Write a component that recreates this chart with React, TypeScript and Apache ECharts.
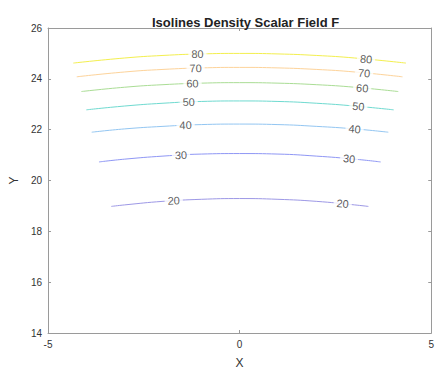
import React, { useEffect, useRef } from "react";
import * as echarts from "echarts";

const levels = [20, 30, 40, 50, 60, 70, 80];
const levelColors = ["#9d98e6", "#8f97f5", "#93c6f2", "#6fdad0", "#aadd95", "#fdd39a", "#f3ef4e"];

const line20 = [[-3.35, 18.98], [-3, 19.04], [-2, 19.18], [-1, 19.26], [0, 19.29], [1, 19.26], [2, 19.18], [3, 19.04], [3.36, 18.98]];
const line30 = [[-3.67, 20.73], [-3, 20.84], [-2, 20.96], [-1, 21.04], [0, 21.06], [1, 21.04], [2, 20.96], [3, 20.84], [3.68, 20.73]];
const line40 = [[-3.86, 21.9], [-3, 22.03], [-2, 22.13], [-1, 22.2], [0, 22.22], [1, 22.2], [2, 22.13], [3, 22.03], [3.88, 21.9]];
const line50 = [[-4.0, 22.78], [-3, 22.93], [-2, 23.04], [-1, 23.11], [0, 23.13], [1, 23.11], [2, 23.04], [3, 22.93], [4.02, 22.78]];
const line60 = [[-4.13, 23.5], [-3, 23.67], [-2, 23.77], [-1, 23.83], [0, 23.85], [1, 23.83], [2, 23.77], [3, 23.67], [4.14, 23.5]];
const line70 = [[-4.25, 24.08], [-3, 24.27], [-2, 24.37], [-1, 24.43], [0, 24.45], [1, 24.43], [2, 24.37], [3, 24.27], [4.25, 24.08]];
const line80 = [[-4.34, 24.62], [-3, 24.82], [-2, 24.92], [-1, 24.98], [0, 25.0], [1, 24.98], [2, 24.92], [3, 24.82], [4.34, 24.62]];
const contourLines = [line20, line30, line40, line50, line60, line70, line80];

const midLabels = [[-1.72, 19.21], [-1.53, 21.0], [-1.41, 22.18], [-1.33, 23.09], [-1.23, 23.82], [-1.15, 24.42], [-1.1, 24.98]];
const rightLabels = [[2.69, 19.09], [2.86, 20.86], [3.0, 22.03], [3.1, 22.92], [3.2, 23.64], [3.25, 24.23], [3.3, 24.78]];

const xTicks = { min: -5, max: 5, interval: 5 };
const yTicks = { min: 14, max: 26, interval: 2 };

export default function App() {
  const ref = useRef<HTMLDivElement>(null);

  useEffect(() => {
    if (!ref.current) return;
    document.body.style.margin = "0";
    const chart = echarts.init(ref.current, undefined, { renderer: "svg" });
    const font = "'Liberation Sans', Arial, Helvetica, sans-serif";
    const axisColor = "#9a9a9a";
    const textColor = "#333333";

    const lineSeries = contourLines.map((pts, i) => ({
      type: "line",
      name: String(levels[i]),
      data: pts,
      smooth: true,
      showSymbol: false,
      symbol: "none",
      lineStyle: { color: levelColors[i], width: 1 },
      z: 2,
      silent: true,
    }));

    const labelData: any[] = [];
    levels.forEach((lv, i) => {
      labelData.push({ value: [midLabels[i][0], midLabels[i][1], lv], label: { rotate: 1.5 } });
      labelData.push({ value: [rightLabels[i][0], rightLabels[i][1], lv], label: { rotate: -5 } });
    });

    const labelSeries = {
      type: "scatter",
      data: labelData,
      symbolSize: 0,
      z: 5,
      silent: true,
      label: {
        show: true,
        position: "inside",
        formatter: (p: any) => String(p.value[2]),
        fontFamily: font,
        fontSize: 11,
        color: textColor,
        backgroundColor: "#ffffff",
        padding: [0, 3],
      },
    };

    const baseX = {
      type: "value",
      min: xTicks.min,
      max: xTicks.max,
      interval: xTicks.interval,
      splitLine: { show: false },
      axisLine: { show: true, onZero: false, lineStyle: { color: axisColor, width: 1 } },
      axisTick: { show: true, inside: true, length: 3, lineStyle: { color: axisColor } },
    };
    const baseY = {
      type: "value",
      min: yTicks.min,
      max: yTicks.max,
      interval: yTicks.interval,
      splitLine: { show: false },
      axisLine: { show: true, onZero: false, lineStyle: { color: axisColor, width: 1 } },
      axisTick: { show: true, inside: true, length: 3, lineStyle: { color: axisColor } },
    };

    chart.setOption({
      animation: false,
      backgroundColor: "#ffffff",
      title: {
        text: "Isolines Density Scalar Field F",
        left: 147,
        top: 11,
        textStyle: { fontFamily: font, fontSize: 13, fontWeight: "bold", color: "#222222" },
      },
      grid: { left: 45, right: 3, top: 28, bottom: 37, containLabel: false },
      xAxis: [
        {
          ...baseX,
          position: "bottom",
          name: "X",
          nameLocation: "middle",
          nameGap: 24,
          nameTextStyle: { fontFamily: font, fontSize: 12, color: textColor },
          axisLabel: { fontFamily: font, fontSize: 10, color: textColor, margin: 6 },
        },
        { ...baseX, position: "top", axisLabel: { show: false } },
      ],
      yAxis: [
        {
          ...baseY,
          position: "left",
          name: "Y",
          nameLocation: "middle",
          nameGap: 26,
          nameTextStyle: { fontFamily: font, fontSize: 12, color: textColor },
          axisLabel: { fontFamily: font, fontSize: 10, color: textColor, margin: 6 },
        },
        { ...baseY, position: "right", axisLabel: { show: false } },
      ],
      series: [...lineSeries, labelSeries],
    } as any);

    return () => chart.dispose();
  }, []);

  return (
    <div
      ref={ref}
      style={{ position: "fixed", left: 0, top: 0, width: 437, height: 374 }}
    />
  );
}
